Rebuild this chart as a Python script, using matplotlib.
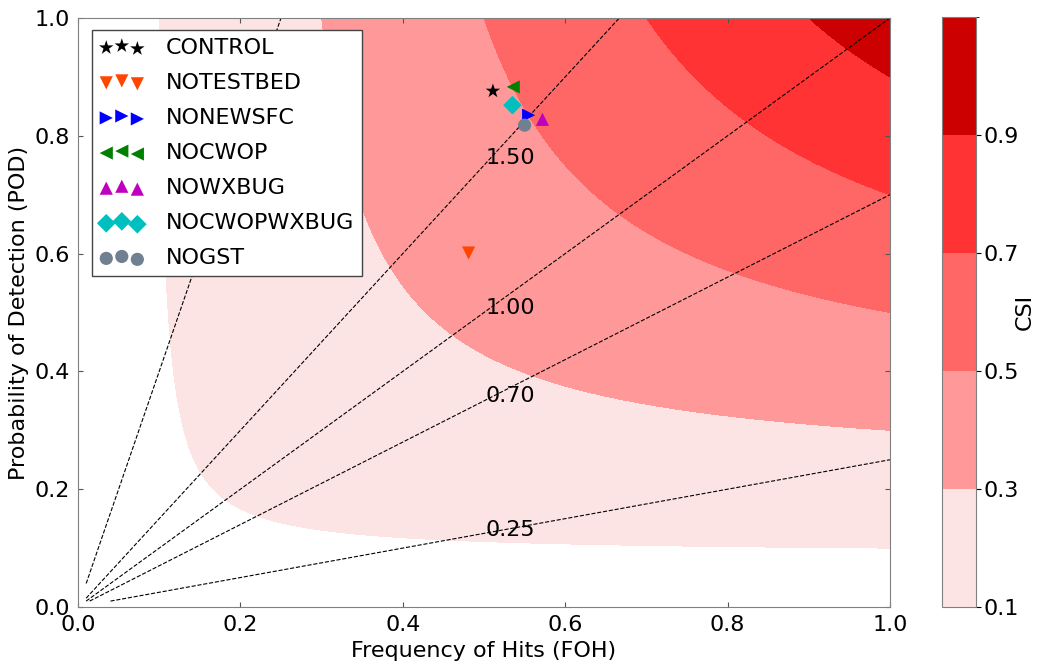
import numpy as np
import matplotlib
matplotlib.use("Agg")
import matplotlib.pyplot as plt
from matplotlib.colors import ListedColormap, BoundaryNorm

# Experiments: (FOH, POD)
names = ["CONTROL", "NOTESTBED", "NONEWSFC", "NOCWOP", "NOWXBUG", "NOCWOPWXBUG", "NOGST"]
foh = [0.511, 0.481, 0.555, 0.536, 0.572, 0.535, 0.550]
pod = [0.876, 0.601, 0.835, 0.883, 0.828, 0.852, 0.818]
markers = ["*", "v", ">", "<", "^", "D", "o"]
colors = ["black", "orangered", "blue", "green", "m", "c", "slategray"]

csi_levels = [0.1, 0.3, 0.5, 0.7, 0.9, 1.1]
csi_ticks = [0.1, 0.3, 0.5, 0.7, 0.9]
csi_colors = ["#fde4e4", "#ff9999", "#ff6666", "#ff3333", "#cc0000"]
bias_levels = [0.25, 0.7, 1.0, 1.5, 4.0]
bias_labels = ["0.25", "0.70", "1.00", "1.50"]
bias_label_pod = [0.131, 0.358, 0.508, 0.762]
bias_label_foh = 0.533

plt.rcParams['font.family'] = ['DejaVu Sans']
fig = plt.figure(figsize=(10.42, 6.67), dpi=100)
ax = fig.add_axes([78/1042, 1-607/667, 812/1042, 589/667])
cax = fig.add_axes([942/1042, 1-607/667, 34/1042, 590/667])

g = np.linspace(0.01, 1.0, 400)
SR, POD = np.meshgrid(g, g)
CSI = 1.0 / (1.0/SR + 1.0/POD - 1.0)
BIAS = POD / SR

cmap = ListedColormap(csi_colors)
norm = BoundaryNorm(csi_levels, cmap.N)
cf = ax.contourf(SR, POD, CSI, levels=csi_levels, cmap=cmap, norm=norm)
ax.contour(SR, POD, BIAS, levels=bias_levels, colors='k', linestyles='dashed', linewidths=0.8)
for lab, y in zip(bias_labels, bias_label_pod):
    ax.text(bias_label_foh, y, lab, fontsize=16, ha='center', va='center')

for n, x, y, m, c in zip(names, foh, pod, markers, colors):
    ax.scatter([x], [y], marker=m, c=c, s=90 if m != "*" else 120, edgecolors='none', label=n, zorder=5)

ax.set_xlim(0, 1)
ax.set_ylim(0, 1)
ax.set_xlabel("Frequency of Hits (FOH)", fontsize=16)
ax.set_ylabel("Probability of Detection (POD)", fontsize=16)
ax.tick_params(direction='in', top=True, right=True, labelsize=16, color='#555555', pad=6)
for s in ax.spines.values():
    s.set_color('#808080')

leg = ax.legend(loc='upper left', scatterpoints=3, fontsize=16, fancybox=False,
                bbox_to_anchor=(0.017, 0.98), borderaxespad=0, handletextpad=1.0,
                labelspacing=0.68, framealpha=1, borderpad=0.35)
leg.get_frame().set_edgecolor('#444444')

cb = fig.colorbar(cf, cax=cax, ticks=csi_ticks)
cb.set_label("CSI", fontsize=16, labelpad=-3)
cb.ax.tick_params(labelsize=16, pad=2)
cb.outline.set_edgecolor('#808080')

fig.savefig("out.png", dpi=100)
